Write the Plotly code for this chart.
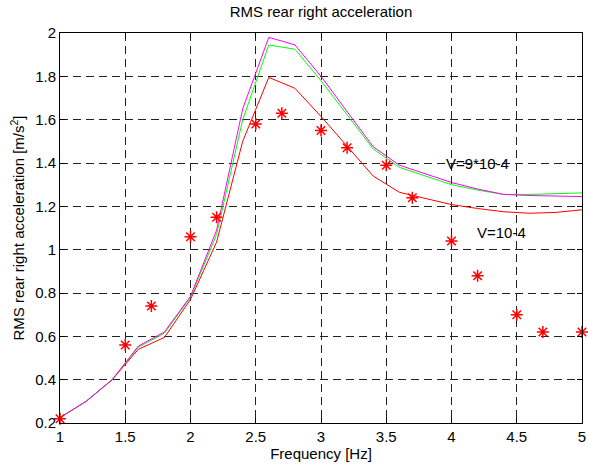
import plotly.graph_objects as go

freq_sim = [1.0, 1.2, 1.4, 1.6, 1.8, 2.0, 2.2, 2.4, 2.6, 2.8, 3.0, 3.2, 3.4, 3.6, 3.8, 4.0, 4.2, 4.4, 4.6, 4.8, 5.0]
acc_red = [0.225, 0.30, 0.40, 0.54, 0.595, 0.77, 1.035, 1.50, 1.795, 1.745, 1.615, 1.48, 1.34, 1.265, 1.235, 1.208, 1.19, 1.175, 1.168, 1.172, 1.184]
acc_green = [0.225, 0.30, 0.40, 0.55, 0.615, 0.78, 1.07, 1.60, 1.945, 1.925, 1.78, 1.625, 1.465, 1.38, 1.34, 1.30, 1.275, 1.255, 1.255, 1.258, 1.262]
acc_magenta = [0.225, 0.30, 0.40, 0.555, 0.62, 0.785, 1.09, 1.65, 1.98, 1.945, 1.80, 1.64, 1.475, 1.39, 1.35, 1.31, 1.28, 1.255, 1.25, 1.248, 1.245]

freq_meas = [1.0, 1.5, 1.7, 2.0, 2.2, 2.5, 2.7, 3.0, 3.2, 3.5, 3.7, 4.0, 4.2, 4.5, 4.7, 5.0]
acc_meas = [0.22, 0.56, 0.74, 1.06, 1.15, 1.58, 1.63, 1.55, 1.47, 1.39, 1.24, 1.04, 0.88, 0.70, 0.62, 0.62]

x_ticks = [1, 1.5, 2, 2.5, 3, 3.5, 4, 4.5, 5]
x_tick_labels = ["1", "1.5", "2", "2.5", "3", "3.5", "4", "4.5", "5"]
y_ticks = [0.2, 0.4, 0.6, 0.8, 1.0, 1.2, 1.4, 1.6, 1.8, 2.0]
y_tick_labels = ["0.2", "0.4", "0.6", "0.8", "1", "1.2", "1.4", "1.6", "1.8", "2"]

labels = [("V=9*10-4", 4.2, 1.40), ("V=10-4", 4.38, 1.08)]

font = "Liberation Sans, Arial, sans-serif"
fs = 15

fig = go.Figure()
fig.add_trace(go.Scatter(x=freq_sim, y=acc_red, mode="lines",
                         line=dict(color="#ff0000", width=1), showlegend=False))
fig.add_trace(go.Scatter(x=freq_sim, y=acc_green, mode="lines",
                         line=dict(color="#00ff00", width=1), showlegend=False))
fig.add_trace(go.Scatter(x=freq_sim, y=acc_magenta, mode="lines",
                         line=dict(color="#ff00ff", width=1), showlegend=False))
fig.add_trace(go.Scatter(x=freq_meas, y=acc_meas, mode="markers",
                         marker=dict(symbol="asterisk-open", size=10, color="#ff0000",
                                     line=dict(color="#ff0000", width=1.5)),
                         showlegend=False, cliponaxis=False))

for txt, xx, yy in labels:
    fig.add_annotation(x=xx, y=yy, text=txt, showarrow=False,
                       font=dict(family=font, size=fs, color="black"))

axis_common = dict(
    showline=True, linecolor="black", linewidth=1, mirror="ticks",
    ticks="inside", ticklen=5, tickcolor="black",
    showgrid=True, gridcolor="#222222", gridwidth=1, griddash="8px,5px",
    zeroline=False, tickfont=dict(family=font, size=fs, color="black"),
    ticklabeloverflow="allow",
)

fig.update_xaxes(range=[1, 5], tickvals=x_ticks, ticktext=x_tick_labels,
                 title=dict(text="Frequency [Hz]", font=dict(family=font, size=fs, color="black"), standoff=2),
                 **axis_common)
fig.update_yaxes(range=[0.2, 2.0], tickvals=y_ticks, ticktext=y_tick_labels,
                 title=dict(text="RMS rear right acceleration [m/s<sup>2</sup>]",
                            font=dict(family=font, size=fs, color="black"), standoff=6),
                 **axis_common)

fig.update_layout(
    width=589, height=468,
    margin=dict(l=60, r=3, t=33, b=45),
    paper_bgcolor="white", plot_bgcolor="white",
    title=dict(text="RMS rear right acceleration", x=0.5, xref="paper", xanchor="center",
               y=1, yref="container", yanchor="top", pad=dict(t=6),
               font=dict(family=font, size=fs, color="black")),
)

fig.write_html("out.html")
